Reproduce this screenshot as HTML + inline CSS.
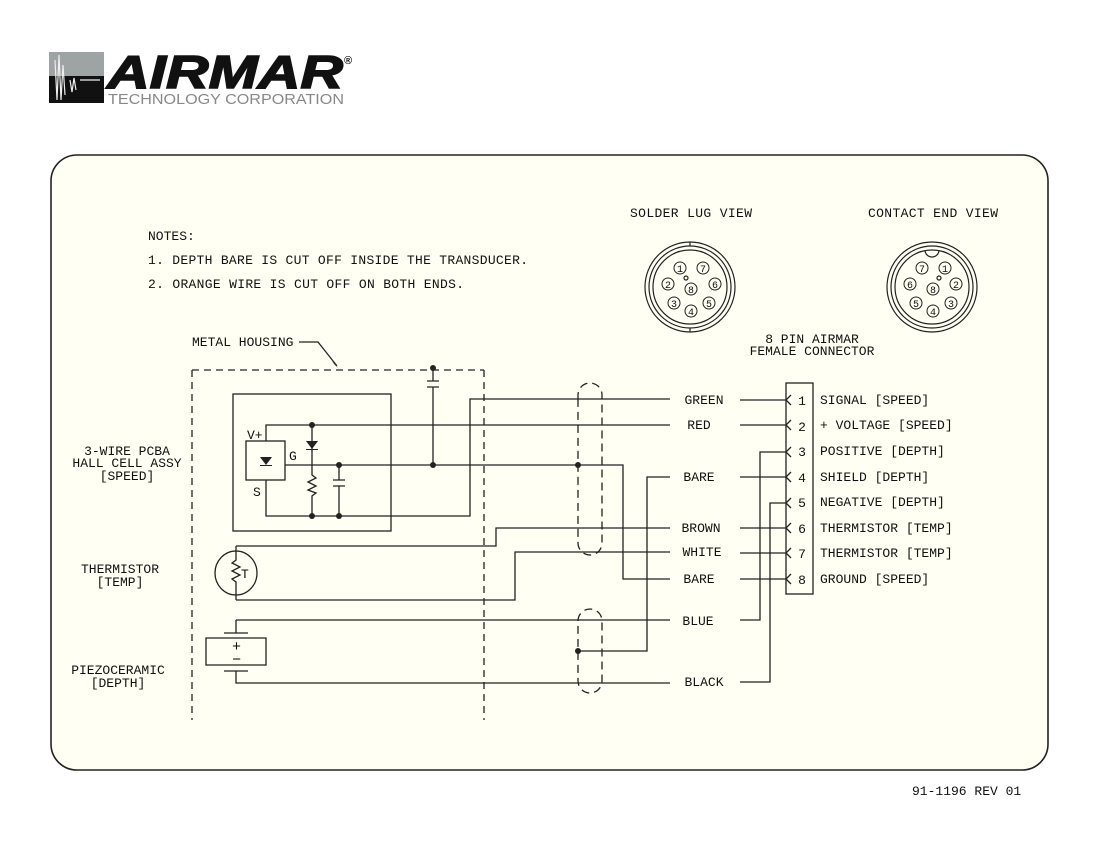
<!DOCTYPE html>
<html><head><meta charset="utf-8"><style>
html,body{margin:0;padding:0;background:#fff;width:1100px;height:850px;overflow:hidden}
svg{display:block}
text{font-family:"Liberation Mono",monospace;font-size:13px;fill:#111}
</style></head><body>
<svg width="1100" height="850" viewBox="0 0 1100 850" xmlns="http://www.w3.org/2000/svg">
<!-- logo -->
<rect x="49" y="52" width="55" height="24" fill="#9ea3a3"/>
<rect x="49" y="76" width="55" height="27" fill="#111"/>
<path d="M55 60 L57 100 L59 55 L61 100 L63 65 L65 95 M70 80 L72 92 L74 78 L76 90 M80 80 L100 80" stroke="#eee" stroke-width="1.2" fill="none"/>
<text x="107" y="88" style="font-family:'Liberation Sans',sans-serif;font-weight:bold;font-style:italic;font-size:46px;fill:#111;stroke:#111;stroke-width:1.5" textLength="236" lengthAdjust="spacingAndGlyphs">AIRMAR</text>
<text x="344" y="64" style="font-family:'Liberation Sans',sans-serif;font-weight:bold;font-size:11px;fill:#111">®</text>
<text x="108" y="104" style="font-family:'Liberation Sans',sans-serif;font-size:15px;fill:#888" textLength="236" lengthAdjust="spacingAndGlyphs">TECHNOLOGY CORPORATION</text>
<!-- panel -->
<rect x="51" y="155" width="997" height="615" rx="26" fill="#fffff3" stroke="#222" stroke-width="1.6"/>
<text x="148" y="240">NOTES:</text>
<text x="148" y="264" textLength="380">1. DEPTH BARE IS CUT OFF INSIDE THE TRANSDUCER.</text>
<text x="148" y="288" textLength="316">2. ORANGE WIRE IS CUT OFF ON BOTH ENDS.</text>
<text x="630" y="217" textLength="122">SOLDER LUG VIEW</text>
<text x="868" y="217" textLength="130">CONTACT END VIEW</text>
<!-- connectors -->
<g stroke="#222" stroke-width="1.2" fill="none">
<circle cx="690" cy="287" r="45"/><circle cx="690" cy="287" r="41"/><circle cx="690" cy="287" r="37"/>
<line x1="690" y1="242" x2="690" y2="246"/><line x1="690" y1="328" x2="690" y2="332"/>
<circle cx="932" cy="287" r="45"/><circle cx="932" cy="287" r="41"/><circle cx="932" cy="287" r="37"/>
<path d="M925 250 A7 7 0 0 0 939 250"/>
<circle cx="686" cy="278" r="2"/><circle cx="939" cy="278" r="2"/>
</g>
<g stroke="#222" stroke-width="1" fill="none">
<circle cx="680" cy="268" r="6"/><circle cx="703" cy="268" r="6"/><circle cx="668" cy="284" r="6"/><circle cx="691" cy="289" r="6"/><circle cx="715" cy="284" r="6"/><circle cx="674" cy="303" r="6"/><circle cx="709" cy="303" r="6"/><circle cx="691" cy="311" r="6"/>
<circle cx="922" cy="268" r="6"/><circle cx="945" cy="268" r="6"/><circle cx="910" cy="284" r="6"/><circle cx="933" cy="289" r="6"/><circle cx="956" cy="284" r="6"/><circle cx="916" cy="303" r="6"/><circle cx="951" cy="303" r="6"/><circle cx="933" cy="311" r="6"/>
</g>
<g text-anchor="middle">
<text x="680" y="272" style="font-size:10px">1</text><text x="703" y="272" style="font-size:10px">7</text><text x="668" y="288" style="font-size:10px">2</text><text x="691" y="293" style="font-size:10px">8</text><text x="715" y="288" style="font-size:10px">6</text><text x="674" y="307" style="font-size:10px">3</text><text x="709" y="307" style="font-size:10px">5</text><text x="691" y="315" style="font-size:10px">4</text>
<text x="922" y="272" style="font-size:10px">7</text><text x="945" y="272" style="font-size:10px">1</text><text x="910" y="288" style="font-size:10px">6</text><text x="933" y="293" style="font-size:10px">8</text><text x="956" y="288" style="font-size:10px">2</text><text x="916" y="307" style="font-size:10px">5</text><text x="951" y="307" style="font-size:10px">3</text><text x="933" y="315" style="font-size:10px">4</text>
</g>
<text x="812" y="343" text-anchor="middle">8 PIN AIRMAR</text>
<text x="812" y="355" text-anchor="middle">FEMALE CONNECTOR</text>
<!-- housing -->
<text x="192" y="346">METAL HOUSING</text>
<g stroke="#222" stroke-width="1.3" fill="none">
<path d="M299 342 H318 L337 366"/>
<path d="M192 370 H484 M192 370 V720 M484 370 V720" stroke-dasharray="7,5"/>
<rect x="233" y="394" width="158" height="137"/>
<rect x="246" y="441" width="39" height="39"/>
<path d="M266 441 V425 H670 M312 425 V465 M266 480 V516 H470 V399 H670 M285 465 H623 V579 H670 M312 465 V475 L316 478 L308 482 L316 486 L308 490 L316 493 L312 496 V516 M339 465 V480 M339 486 V516 M333 480 H345 M333 486 H345 M433 368 V381 M433 387 V465 M427 381 H439 M427 387 H439"/>
<path d="M236 546 H496 V528 H670 M236 600 H515 V552 H670 M236 546 V560 L232 563 L240 567 L232 571 L240 575 L232 579 L236 582 V600"/>
<ellipse cx="236" cy="573" rx="21" ry="22"/>
<path d="M236 620 V633 M236 620 H670 M224 633 H248 M206 638 H266 V665 H206 Z M224 671 H248 M236 671 V683 H670 M578 651 H647 V477 H670"/>
<path d="M578 400 V395 A12 12 0 0 1 602 395 V543 A12 12 0 0 1 578 543 Z M578 621 A12 12 0 0 1 602 621 V681 A12 12 0 0 1 578 681 Z" stroke-dasharray="8,5"/>
<path d="M740 400 H786 M740 425 H786 M740 477 H786 M740 528 H786 M740 553 H786 M740 579 H786 M740 620 H760 V452 H786 M740 682 H770 V503 H786"/>
<rect x="786" y="383" width="27" height="211"/>
<path d="M791 395 L786 400 L791 405 M791 420 L786 425 L791 430 M791 447 L786 452 L791 457 M791 472 L786 477 L791 482 M791 498 L786 503 L791 508 M791 523 L786 528 L791 533 M791 548 L786 553 L791 558 M791 574 L786 579 L791 584"/>
</g>
<g fill="#222">
<path d="M332 361 L339 369 L334 364 Z" />
<path d="M306 441 H318 L312 449 Z M260 457 H272 L266 465 Z M260 465 H272 V466 H260 Z M306 449 H318 V450 H306 Z"/>
<circle cx="312" cy="425" r="3"/><circle cx="339" cy="465" r="3"/><circle cx="433" cy="465" r="3"/><circle cx="433" cy="368" r="3"/><circle cx="312" cy="516" r="3"/><circle cx="339" cy="516" r="3"/><circle cx="578" cy="465" r="3"/><circle cx="578" cy="651" r="3"/>
</g>
<text x="247" y="439">V+</text><text x="289" y="460">G</text><text x="253" y="496">S</text><text x="241" y="578">T</text>
<text x="232" y="651" style="font-size:15px">+</text><text x="232" y="664" style="font-size:15px">−</text>
<g text-anchor="middle">
<text x="127" y="455">3-WIRE PCBA</text><text x="127" y="467">HALL CELL ASSY</text><text x="127" y="480">[SPEED]</text>
<text x="120" y="573">THERMISTOR</text><text x="120" y="586">[TEMP]</text>
<text x="118" y="674">PIEZOCERAMIC</text><text x="118" y="687">[DEPTH]</text>
<text x="704" y="404">GREEN</text><text x="699" y="429">RED</text><text x="699" y="481">BARE</text><text x="701" y="532">BROWN</text><text x="702" y="556">WHITE</text><text x="699" y="583">BARE</text><text x="698" y="625">BLUE</text><text x="704" y="686">BLACK</text>
<text x="802" y="405">1</text><text x="802" y="431">2</text><text x="802" y="456">3</text><text x="802" y="482">4</text><text x="802" y="507">5</text><text x="802" y="533">6</text><text x="802" y="558">7</text><text x="802" y="584">8</text>
</g>
<text x="820" y="404">SIGNAL [SPEED]</text>
<text x="820" y="429">+ VOLTAGE [SPEED]</text>
<text x="820" y="455">POSITIVE [DEPTH]</text>
<text x="820" y="481">SHIELD [DEPTH]</text>
<text x="820" y="506">NEGATIVE [DEPTH]</text>
<text x="820" y="532">THERMISTOR [TEMP]</text>
<text x="820" y="557">THERMISTOR [TEMP]</text>
<text x="820" y="583">GROUND [SPEED]</text>
<text x="912" y="795">91-1196 REV 01</text>
</svg>
</body></html>
